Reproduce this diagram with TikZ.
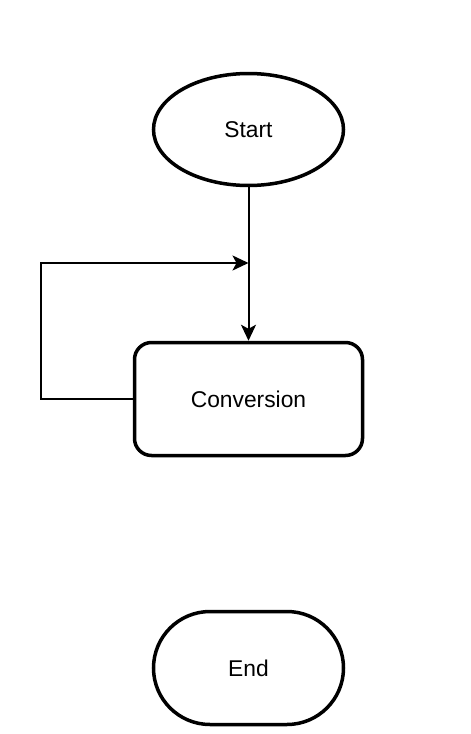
\documentclass[tikz,border=0pt]{standalone}
\usepackage{fontspec}
\setmainfont{Liberation Sans}
\usetikzlibrary{shapes.geometric,shapes.misc,arrows.meta}
\begin{document}
\begin{tikzpicture}[x=1pt,y=-1pt,
  shapebase/.style={draw=black,line width=3.5pt,fill=white,font=\fontsize{22.8}{27}\selectfont,inner sep=0pt},
  startshape/.style={shapebase,ellipse,minimum width=190pt,minimum height=112pt},
  procshape/.style={shapebase,rectangle,rounded corners=17pt,minimum width=228pt,minimum height=113pt},
  endshape/.style={shapebase,rounded rectangle,minimum width=190pt,minimum height=113pt},
  conn/.style={draw=black,line width=2pt,-{Stealth[length=16pt,width=15pt,inset=4pt]}}]
\useasboundingbox (0,0) rectangle (471,734);
\node[startshape] (start) at (248.5,129.5) {Start};
\node[procshape] (conv) at (248.5,399) {Conversion};
\node[endshape] (end) at (248.5,668) {End};
\coordinate (join) at (248.5,263);
\coordinate (loopcorner) at (41,399);
\draw[conn] (start.south) -- (conv.north);
\draw[conn] (conv.west) -- (loopcorner) |- (join);
\end{tikzpicture}
\end{document}
